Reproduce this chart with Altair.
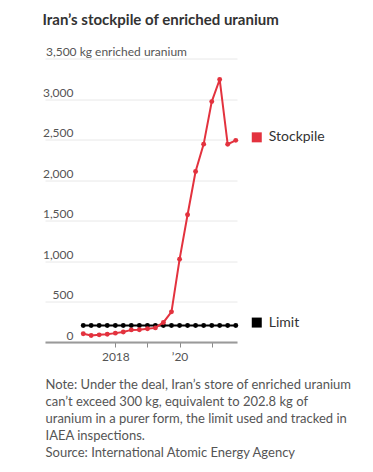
import altair as alt
import pandas as pd

# ---- data ----
dates = ["2017-01-01", "2017-04-01", "2017-07-01", "2017-10-01",
         "2018-01-01", "2018-04-01", "2018-07-01", "2018-10-01",
         "2019-01-01", "2019-04-01", "2019-07-01", "2019-10-01",
         "2020-01-01", "2020-04-01", "2020-07-01", "2020-10-01",
         "2021-01-01", "2021-04-01", "2021-07-01", "2021-10-01"]
stockpile = [101.7, 79.8, 88.4, 96.1, 109.5, 123.6, 149.4, 151.6,
             163.8, 174.1, 241.6, 372.3, 1020.9, 1571.6, 2105.4, 2442.9,
             2967.8, 3241.0, 2441.3, 2489.7]
limit = [202.8, 202.8, 202.8, 202.8, 202.8, 202.8, 202.8, 202.8,
         202.8, 202.8, 202.8, 202.8, 202.8, 202.8, 202.8, 202.8,
         202.8, 202.8, 202.8, 202.8]
series_names = ["Stockpile", "Limit"]
series_colors = ["#e3323e", "#000000"]
y_ticks = [0, 500, 1000, 1500, 2000, 2500, 3000, 3500]
y_unit_label = "3,500 kg enriched uranium"
title_text = "Iran\u2019s stockpile of enriched uranium"
note_lines = [
    "Note: Under the deal, Iran\u2019s store of enriched uranium",
    "can\u2019t exceed 300 kg, equivalent to 202.8 kg of",
    "uranium in a purer form, the limit used and tracked in",
    "IAEA inspections.",
    "Source: International Atomic Energy Agency",
]

FONT = "Lato"

df_stock = pd.DataFrame({"date": dates, "value": stockpile})
df_limit = pd.DataFrame({"date": dates, "value": limit})
df_end = pd.DataFrame({
    "date": [dates[-1], dates[-1]],
    "value": [stockpile[-1], limit[-1]],
    "series": series_names,
})
df_unit = pd.DataFrame({"value": [y_ticks[-1]], "text": [y_unit_label]})

x_scale = alt.Scale(type="utc",
                    domain=[alt.DateTime(year=2015, month=10, date=24, utc=True),
                            alt.DateTime(year=2021, month=10, date=15, utc=True)])
y_scale = alt.Scale(domain=[0, 3500], nice=False)

x_axis = alt.Axis(
    values=[alt.DateTime(year=2018, month=1, date=1, utc=True),
            alt.DateTime(year=2019, month=1, date=1, utc=True),
            alt.DateTime(year=2020, month=1, date=1, utc=True),
            alt.DateTime(year=2021, month=1, date=1, utc=True)],
    labelExpr="utcyear(datum.value) == 2018 ? '2018' : (utcyear(datum.value) == 2020 ? '\u201920' : '')",
    grid=False, domain=True, domainColor="#9a9a9a", domainWidth=2,
    ticks=True, tickColor="#8a8a8a", tickSize=5, tickWidth=1,
    labelFont=FONT, labelFontSize=12, labelColor="#555555", labelPadding=4,
    title=note_lines, titleFont=FONT, titleFontSize=13, titleFontWeight="normal",
    titleColor="#555555", titleAlign="left", titleBaseline="top",
    titleX=0, titleY=36, titleLineHeight=17, titleAnchor="start",
)
y_axis = alt.Axis(
    values=y_ticks, grid=True, gridColor="#e8e8e8", gridWidth=1,
    domain=False, ticks=False,
    labelAlign="right", labelBaseline="alphabetic", labelPadding=-28, labelOffset=-3,
    labelExpr="datum.value == 3500 ? '' : format(datum.value, ',')",
    labelFont=FONT, labelFontSize=12, labelColor="#555555", title=None,
)

x_enc = alt.X("date:T", scale=x_scale, axis=x_axis)
y_enc = alt.Y("value:Q", scale=y_scale, axis=y_axis)

limit_line = alt.Chart(df_limit).mark_line(color=series_colors[1], strokeWidth=2).encode(x=x_enc, y=y_enc)
limit_pts = alt.Chart(df_limit).mark_circle(color=series_colors[1], size=24, opacity=1).encode(
    x="date:T", y="value:Q")
stock_line = alt.Chart(df_stock).mark_line(color=series_colors[0], strokeWidth=2).encode(
    x="date:T", y="value:Q")
stock_pts = alt.Chart(df_stock).mark_circle(color=series_colors[0], size=24, opacity=1).encode(
    x="date:T", y="value:Q")

color_scale = alt.Scale(domain=series_names, range=series_colors)
end_sq = alt.Chart(df_end).mark_square(size=100, xOffset=21, yOffset=-3, opacity=1).encode(
    x="date:T", y="value:Q", color=alt.Color("series:N", scale=color_scale, legend=None))
end_txt = alt.Chart(df_end).mark_text(align="left", baseline="middle", dx=33, dy=-3,
                                      font=FONT, fontSize=14, color="#333333").encode(
    x="date:T", y="value:Q", text="series:N")

unit_txt = alt.Chart(df_unit).mark_text(align="left", baseline="alphabetic", dy=-3,
                                        font=FONT, fontSize=12, color="#555555").encode(
    x=alt.value(1), y=alt.Y("value:Q"), text="text:N")

chart = alt.layer(limit_line, limit_pts, stock_line, stock_pts, end_sq, end_txt, unit_txt).properties(
    width=192, height=283.5,
    title=alt.TitleParams(title_text, anchor="start", font=FONT, fontSize=15, fontWeight="bold",
                          color="#333333", baseline="alphabetic", offset=6),
    autosize=alt.AutoSizeParams(type="none"),
    padding={"left": 37, "top": 50.5, "right": 120, "bottom": 120},
).configure_view(stroke=None)

chart.save("out.html", embed_options={"renderer": "svg", "actions": False})
